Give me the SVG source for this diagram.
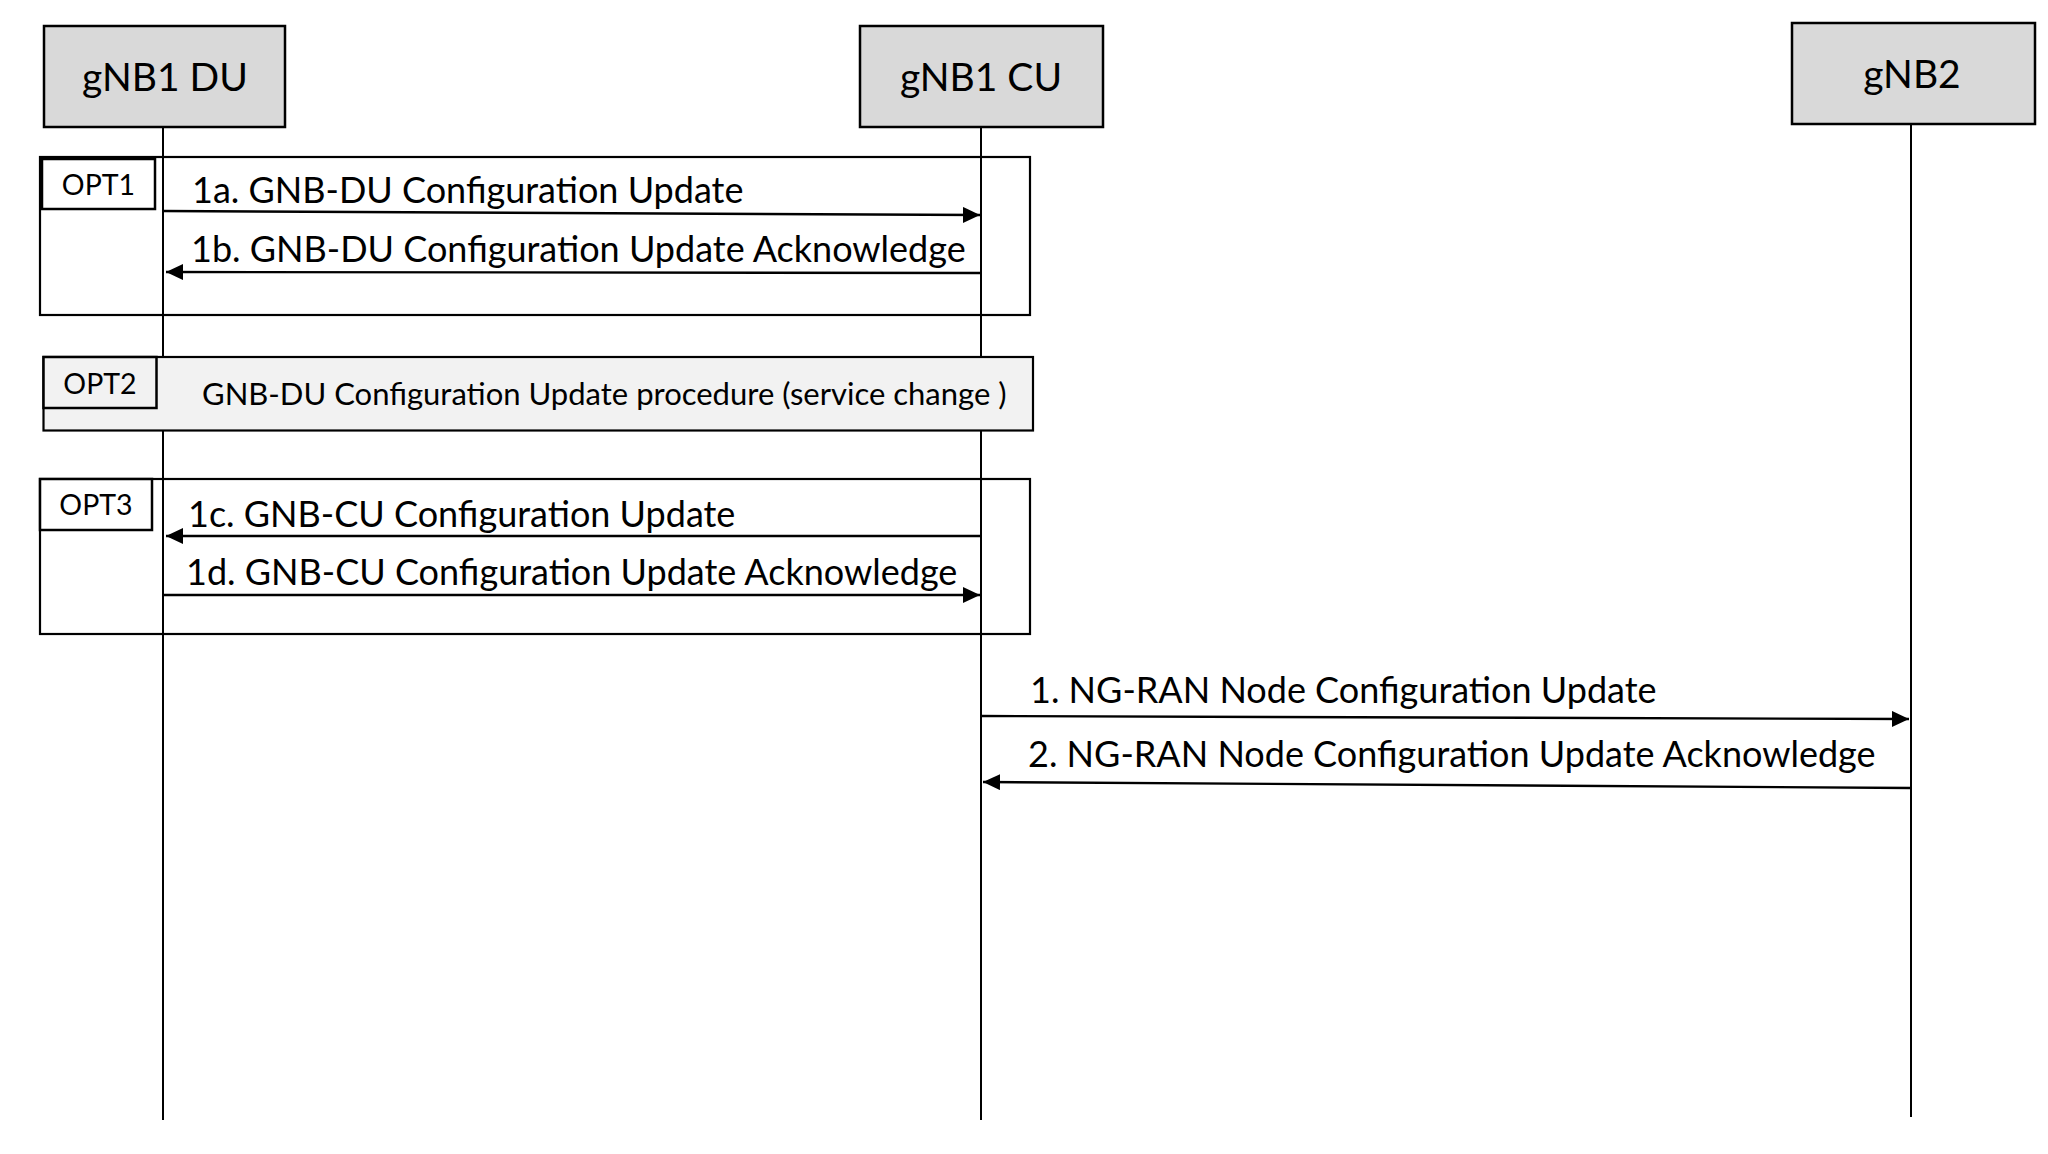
<svg xmlns="http://www.w3.org/2000/svg" width="2048" height="1154" viewBox="0 0 2048 1154">
<style>
.node{fill:#d9d9d9;stroke:#000;stroke-width:2.5}
.life{stroke:#000;stroke-width:2;fill:none}
.frame{fill:none;stroke:#000;stroke-width:2.2}
.frame2{fill:#f2f2f2;stroke:#000;stroke-width:2.2}
.tag{fill:#fff;stroke:#000;stroke-width:2.5}
.tag2{fill:#f2f2f2;stroke:#000;stroke-width:2.5}
.msg{stroke:#000;stroke-width:2.4;fill:none;marker-end:url(#ah)}
text{font-family:Lato,"Open Sans","Liberation Sans",sans-serif;fill:#000}
.nt{font-size:39px;text-anchor:middle}
.ot{font-size:28.5px;text-anchor:middle}
.mt{font-size:36px}
.pt{font-size:31px}
</style>
<defs>
<marker id="ah" markerUnits="userSpaceOnUse" markerWidth="18" markerHeight="16" refX="17" refY="8" orient="auto">
<path d="M0,0 L17,8 L0,16 z" fill="#000"/>
</marker>
</defs>
<rect width="2048" height="1154" fill="#fff"/>
<g id="lifelines">
<line class="life" x1="163" y1="127" x2="163" y2="1120"/>
<line class="life" x1="981" y1="127" x2="981" y2="1120"/>
<line class="life" x1="1911" y1="124" x2="1911" y2="1117"/>
</g>
<g id="node-gnb1du">
<rect class="node" x="44" y="26" width="241" height="101"/>
<text class="nt" x="165" y="91">gNB1 DU</text>
</g>
<g id="node-gnb1cu">
<rect class="node" x="860" y="26" width="243" height="101"/>
<text class="nt" x="981" y="91">gNB1 CU</text>
</g>
<g id="node-gnb2">
<rect class="node" x="1792" y="23" width="243" height="101"/>
<text class="nt" x="1912" y="88">gNB2</text>
</g>
<g id="opt1">
<rect class="frame" x="40" y="157" width="990" height="158"/>
<rect class="tag" x="42" y="159" width="113" height="50"/>
<text class="ot" x="98.5" y="195">OPT1</text>
</g>
<g id="opt2">
<rect class="frame2" x="43.5" y="357" width="989.5" height="73.5"/>
<rect class="tag2" x="43.5" y="357" width="113" height="51"/>
<text class="ot" x="100" y="394">OPT2</text>
<text class="pt" x="202" y="405">GNB-DU Configuration Update procedure (service change )</text>
</g>
<g id="opt3">
<rect class="frame" x="40" y="479" width="990" height="155"/>
<rect class="tag" x="40" y="479" width="112" height="51"/>
<text class="ot" x="96" y="515">OPT3</text>
</g>
<g id="connectors">
<line class="msg" x1="163" y1="211" x2="980" y2="215"/>
<text class="mt" x="192" y="203">1a. GNB-DU Configuration Update</text>
<line class="msg" x1="981" y1="273" x2="166" y2="272"/>
<text class="mt" x="191" y="262">1b. GNB-DU Configuration Update Acknowledge</text>
<line class="msg" x1="981" y1="536" x2="166" y2="536"/>
<text class="mt" x="188" y="527">1c. GNB-CU Configuration Update</text>
<line class="msg" x1="163" y1="595" x2="980" y2="595"/>
<text class="mt" x="186" y="585">1d. GNB-CU Configuration Update Acknowledge</text>
<line class="msg" x1="981" y1="716" x2="1909" y2="719"/>
<text class="mt" x="1030" y="703">1. NG-RAN Node Configuration Update</text>
<line class="msg" x1="1911" y1="788" x2="983" y2="782"/>
<text class="mt" x="1028" y="767">2. NG-RAN Node Configuration Update Acknowledge</text>
</g>
</svg>
